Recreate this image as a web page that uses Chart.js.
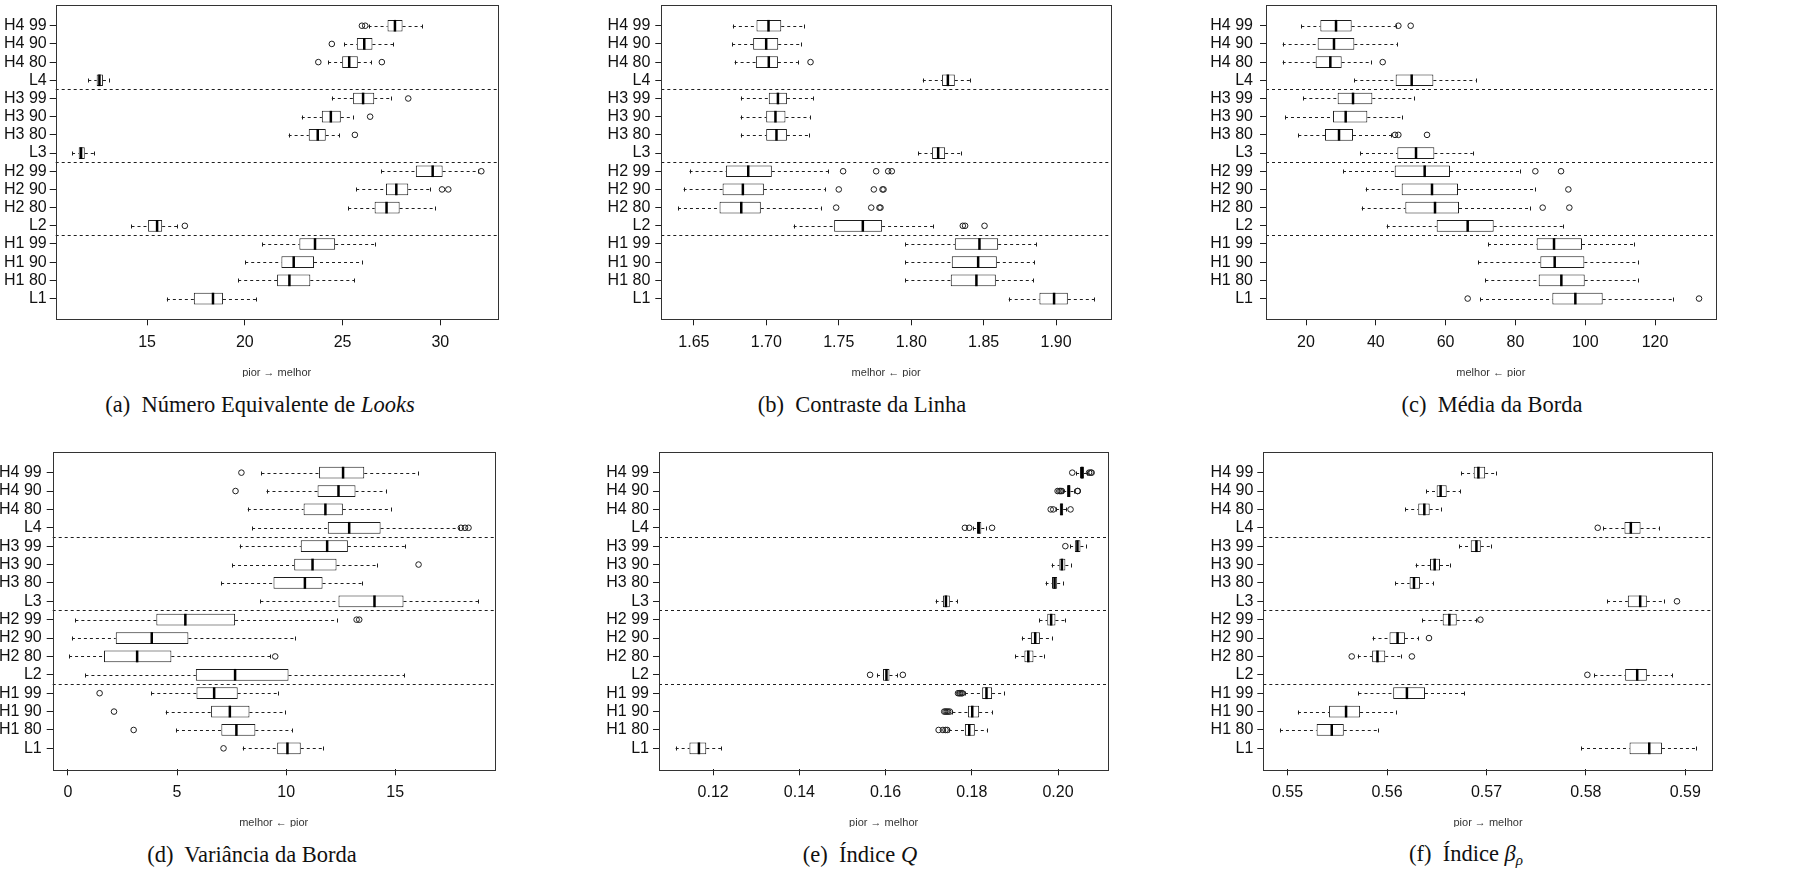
<!DOCTYPE html>
<html>
<head>
<meta charset="utf-8">
<script src="https://cdn.jsdelivr.net/npm/chart.js@4.4.0/dist/chart.umd.min.js"></script>
<style>
  body { margin: 0; background: #fff; }
  #page { position: relative; width: 1795px; height: 872px; overflow: hidden; }
  canvas { position: absolute; }
  .cap { position: absolute; font-family: "Liberation Serif", serif; font-size: 22.5px; line-height: 1; color: #111;
         white-space: nowrap; transform: translate(-50%, -50%); }
  .cap sub { font-size: 15px; vertical-align: -4px; }
</style>
</head>
<body>
<div id="page">
  <canvas id="chartA"></canvas>
  <canvas id="chartB"></canvas>
  <canvas id="chartC"></canvas>
  <canvas id="chartD"></canvas>
  <canvas id="chartE"></canvas>
  <canvas id="chartF"></canvas>
  <div class="cap" style="left:260px;top:405px">(a)&nbsp; Número Equivalente de <i>Looks</i></div>
  <div class="cap" style="left:862px;top:405px">(b)&nbsp; Contraste da Linha</div>
  <div class="cap" style="left:1492px;top:405px">(c)&nbsp; Média da Borda</div>
  <div class="cap" style="left:252px;top:855px">(d)&nbsp; Variância da Borda</div>
  <div class="cap" style="left:860px;top:855px">(e)&nbsp; Índice <i>Q</i></div>
  <div class="cap" style="left:1466px;top:855px">(f)&nbsp; Índice <i>β</i><sub><i>ρ</i></sub></div>
</div>
<script>
// rows, bottom to top
const rowLabels = ['L1', 'H1 80', 'H1 90', 'H1 99', 'L2', 'H2 80', 'H2 90', 'H2 99',
                   'L3', 'H3 80', 'H3 90', 'H3 99', 'L4', 'H4 80', 'H4 90', 'H4 99'];
const groupBreaks = [4.5, 8.5, 12.5];

// (a) Numero Equivalente de Looks
const enlLow  = [16.01, 19.66, 20.02, 20.89, 14.20, 25.29, 25.70, 26.99, 11.16, 22.24, 22.91, 24.45, 11.99, 24.26, 25.08, 26.33];
const enlQ1   = [17.39, 21.65, 21.87, 22.79, 15.05, 26.64, 27.22, 28.75, 11.50, 23.27, 23.94, 25.54, 12.42, 24.98, 25.73, 27.30];
const enlMed  = [18.37, 22.28, 22.50, 23.59, 15.51, 27.25, 27.75, 29.61, 11.62, 23.73, 24.40, 26.05, 12.56, 25.34, 26.11, 27.68];
const enlQ3   = [18.88, 23.35, 23.54, 24.62, 15.77, 27.92, 28.36, 30.12, 11.81, 24.14, 24.91, 26.62, 12.74, 25.78, 26.53, 28.07];
const enlHigh = [20.59, 25.59, 26.02, 26.65, 16.54, 29.73, 29.45, 31.91, 12.27, 24.84, 25.52, 27.46, 13.04, 26.45, 27.58, 29.06];
const enlOut  = [[], [], [], [], [16.93], [], [30.09, 30.41], [32.10], [], [25.63], [26.41], [28.36], [], [23.76, 27.01], [24.45], [25.99, 26.16]];
const enlTicks = [15, 20, 25, 30];

// (b) Contraste da Linha
const conLow  = [1.8673, 1.7960, 1.7960, 1.7960, 1.7188, 1.6390, 1.6429, 1.6470, 1.8050, 1.6824, 1.6822, 1.6824, 1.8080, 1.6781, 1.6764, 1.6769];
const conQ1   = [1.8885, 1.8273, 1.8280, 1.8301, 1.7468, 1.6677, 1.6698, 1.6721, 1.8144, 1.6999, 1.6999, 1.7017, 1.8213, 1.6928, 1.6909, 1.6932];
const conMed  = [1.8986, 1.8450, 1.8462, 1.8471, 1.7666, 1.6827, 1.6838, 1.6875, 1.8186, 1.7070, 1.7063, 1.7080, 1.8253, 1.7017, 1.6999, 1.7015];
const conQ3   = [1.9081, 1.8584, 1.8591, 1.8600, 1.7799, 1.6962, 1.6983, 1.7038, 1.8234, 1.7142, 1.7132, 1.7142, 1.8301, 1.7080, 1.7082, 1.7103];
const conHigh = [1.9264, 1.8844, 1.8848, 1.8862, 1.8149, 1.7379, 1.7404, 1.7427, 1.8345, 1.7296, 1.7300, 1.7321, 1.8407, 1.7218, 1.7236, 1.7257];
const conOut  = [[], [], [], [], [1.8356, 1.8372, 1.8506], [1.7482, 1.7724, 1.7781, 1.7788], [1.7500, 1.7742, 1.7802, 1.7809],
                 [1.7530, 1.7758, 1.7841, 1.7866], [], [], [], [], [], [1.7305], [], []];
const conTicks = [1.65, 1.70, 1.75, 1.80, 1.85, 1.90];

// (c) Media da Borda
const medLow  = [69.86, 71.38, 69.38, 72.15, 43.11, 35.95, 37.10, 30.60, 35.47, 17.80, 13.98, 19.24, 33.85, 13.31, 13.31, 18.66];
const medQ1   = [90.58, 86.67, 87.14, 86.09, 57.44, 48.46, 47.41, 45.41, 46.17, 25.44, 27.74, 29.07, 45.69, 22.77, 23.34, 24.11];
const medMed  = [97.17, 93.16, 91.25, 91.06, 66.32, 56.96, 56.10, 54.00, 51.52, 29.46, 31.37, 33.47, 50.28, 26.97, 28.02, 28.60];
const medQ3   = [105.00, 99.85, 99.75, 99.08, 73.77, 63.84, 63.55, 61.26, 56.77, 33.47, 37.57, 39.01, 56.49, 30.22, 33.85, 33.08];
const medHigh = [125.06, 115.22, 115.13, 113.89, 93.73, 84.09, 85.71, 81.32, 67.76, 44.36, 47.41, 50.95, 68.61, 38.53, 46.17, 45.69];
const medOut  = [[66.32, 132.61], [], [], [], [], [87.81, 95.45], [95.17], [85.71, 93.07], [], [45.50, 46.46, 54.67], [], [], [],
                 [41.97], [], [46.46, 49.99]];
const medTicks = [20, 40, 60, 80, 100, 120];

// (d) Variancia da Borda
const varLow  = [8.01, 4.95, 4.48, 3.82, 0.80, 0.05, 0.18, 0.34, 8.82, 7.02, 7.52, 7.87, 8.44, 8.24, 9.10, 8.87];
const varQ1   = [9.59, 7.03, 6.56, 5.89, 5.86, 1.65, 2.19, 4.05, 12.40, 9.42, 10.37, 10.67, 11.91, 10.80, 11.44, 11.51];
const varMed  = [10.06, 7.72, 7.42, 6.70, 7.66, 3.17, 3.84, 5.38, 14.05, 10.86, 11.21, 11.88, 12.89, 11.80, 12.40, 12.61];
const varQ3   = [10.67, 8.59, 8.32, 7.78, 10.11, 4.74, 5.52, 7.66, 15.38, 11.67, 12.31, 12.83, 14.33, 12.60, 13.18, 13.58];
const varHigh = [11.67, 10.28, 9.97, 9.63, 15.41, 9.28, 10.40, 12.34, 18.81, 13.46, 14.17, 15.44, 17.94, 14.80, 14.56, 16.06];
const varOut  = [[7.13], [3.01], [2.11], [1.45], [], [9.50], [], [13.23, 13.35], [], [], [16.07], [], [18.01, 18.20, 18.36],
                 [], [7.68], [7.95]];
const varTicks = [0, 5, 10, 15];

// (e) Indice Q
const qLow  = [0.1113, 0.1747, 0.1755, 0.1784, 0.1580, 0.1901, 0.1916, 0.1957, 0.1716, 0.1971, 0.1985, 0.2028, 0.1803, 0.1995, 0.2012, 0.2042];
const qQ1   = [0.1145, 0.1784, 0.1791, 0.1824, 0.1594, 0.1922, 0.1937, 0.1975, 0.1733, 0.1986, 0.2003, 0.2039, 0.1812, 0.2004, 0.2021, 0.2051];
const qMed  = [0.1167, 0.1794, 0.1801, 0.1834, 0.1602, 0.1931, 0.1947, 0.1984, 0.1740, 0.1992, 0.2009, 0.2045, 0.1816, 0.2008, 0.2025, 0.2056];
const qQ3   = [0.1184, 0.1807, 0.1817, 0.1847, 0.1609, 0.1943, 0.1958, 0.1994, 0.1749, 0.1998, 0.2017, 0.2052, 0.1822, 0.2012, 0.2029, 0.2060];
const qHigh = [0.1218, 0.1836, 0.1846, 0.1875, 0.1627, 0.1967, 0.1986, 0.2017, 0.1766, 0.2012, 0.2030, 0.2065, 0.1834, 0.2019, 0.2036, 0.2067];
const qOut  = [[], [0.1723, 0.1733, 0.1739, 0.1743], [0.1736, 0.1739, 0.1742, 0.1745, 0.1749],
               [0.1768, 0.1771, 0.1773, 0.1776, 0.1778], [0.1564, 0.1640], [], [], [], [], [], [], [0.2017],
               [0.1784, 0.1794, 0.1847], [0.1983, 0.1989, 0.2029], [0.1999, 0.2003, 0.2006, 0.2009, 0.2045, 0.2046],
               [0.2033, 0.2072, 0.2076, 0.2078]];
const qTicks = [0.12, 0.14, 0.16, 0.18, 0.20];

// (f) Indice beta_rho
const betaLow  = [0.57951, 0.54923, 0.55104, 0.55713, 0.58086, 0.55706, 0.55854, 0.56355, 0.58213, 0.56082, 0.56287, 0.56724, 0.58176, 0.56183, 0.56392, 0.56745];
const betaQ1   = [0.58439, 0.55292, 0.55417, 0.56062, 0.58395, 0.55850, 0.56025, 0.56560, 0.58422, 0.56227, 0.56432, 0.56842, 0.58388, 0.56314, 0.56499, 0.56872];
const betaMed  = [0.58637, 0.55444, 0.55588, 0.56200, 0.58516, 0.55904, 0.56106, 0.56627, 0.58546, 0.56271, 0.56479, 0.56899, 0.58452, 0.56375, 0.56539, 0.56919];
const betaQ3   = [0.58765, 0.55565, 0.55729, 0.56382, 0.58613, 0.55982, 0.56180, 0.56701, 0.58613, 0.56331, 0.56533, 0.56943, 0.58550, 0.56429, 0.56600, 0.56987];
const betaHigh = [0.59108, 0.55911, 0.56092, 0.56775, 0.58866, 0.56136, 0.56311, 0.56899, 0.58782, 0.56459, 0.56634, 0.57050, 0.58734, 0.56546, 0.56738, 0.57091];
const betaOut  = [[], [], [], [], [0.58015], [0.55645, 0.56250], [0.56422], [0.56939], [0.58916], [], [], [], [0.58119], [], [], []];
const betaTicks = [0.55, 0.56, 0.57, 0.58, 0.59];

const ink = '#1e1e1e';

// R style range: data range stretched by 4% on each side
function paddedRange(lists) {
  let lo = Infinity, hi = -Infinity;
  lists.flat(2).forEach(v => { lo = Math.min(lo, v); hi = Math.max(hi, v); });
  const pad = (hi - lo) * 0.04;
  return [lo - pad, hi + pad];
}

function boxPlugin(p) {
  return {
    id: 'boxplot',
    beforeDatasetsDraw(chart) {
      const {ctx, chartArea: a, scales: {x, y}} = chart;
      ctx.save();
      ctx.strokeStyle = ink;
      ctx.lineWidth = 1;
      ctx.setLineDash([3, 3]);
      groupBreaks.forEach(v => {
        const py = Math.round(y.getPixelForValue(v)) + 0.5;
        ctx.beginPath(); ctx.moveTo(a.left, py); ctx.lineTo(a.right, py); ctx.stroke();
      });
      // whiskers
      p.low.forEach((lo, i) => {
        const py = Math.round(y.getPixelForValue(i + 1)) + 0.5;
        ctx.beginPath();
        ctx.moveTo(x.getPixelForValue(lo), py); ctx.lineTo(x.getPixelForValue(p.q1[i]), py);
        ctx.moveTo(x.getPixelForValue(p.q3[i]), py); ctx.lineTo(x.getPixelForValue(p.high[i]), py);
        ctx.stroke();
      });
      ctx.setLineDash([]);
      p.low.forEach((lo, i) => {
        const py = Math.round(y.getPixelForValue(i + 1)) + 0.5;
        [lo, p.high[i]].forEach(v => {
          const px = Math.round(x.getPixelForValue(v)) + 0.5;
          ctx.beginPath(); ctx.moveTo(px, py - 2); ctx.lineTo(px, py + 2); ctx.stroke();
        });
      });
      ctx.restore();
    },
    afterDatasetsDraw(chart) {
      const {ctx, chartArea: a, scales: {x, y}} = chart;
      const half = Math.abs(y.getPixelForValue(2) - y.getPixelForValue(1)) * 0.32;
      ctx.save();
      ctx.strokeStyle = '#000';
      ctx.lineWidth = 2.5;
      p.med.forEach((m, i) => {
        const py = y.getPixelForValue(i + 1);
        const px = x.getPixelForValue(m);
        ctx.beginPath(); ctx.moveTo(px, py - half); ctx.lineTo(px, py + half); ctx.stroke();
      });
      ctx.lineWidth = 1;
      ctx.strokeStyle = '#333';
      ctx.strokeRect(Math.round(a.left) + 0.5, Math.round(a.top) + 0.5, Math.round(a.width), Math.round(a.height));
      ctx.restore();
    }
  };
}

function makePanel(id, p) {
  const canvas = document.getElementById(id);
  canvas.width = p.canvas.w;
  canvas.height = p.canvas.h;
  canvas.style.left = p.canvas.x + 'px';
  canvas.style.top = p.canvas.y + 'px';
  const [xMin, xMax] = paddedRange([p.low, p.high, p.out]);
  const boxes = rowLabels.map((_, i) => ({x: [p.q1[i], p.q3[i]], y: i + 1}));
  const outliers = p.out.flatMap((vals, i) => vals.map(v => ({x: v, y: i + 1})));

  new Chart(canvas, {
    type: 'bar',
    data: {
      datasets: [
        {
          type: 'bar', data: boxes, backgroundColor: '#fff', borderColor: ink, borderWidth: 1,
          borderSkipped: false, barPercentage: 0.64, categoryPercentage: 1
        },
        {
          type: 'scatter', data: outliers, pointStyle: 'circle', pointRadius: 2.8,
          borderColor: ink, borderWidth: 1, backgroundColor: 'rgba(0,0,0,0)'
        }
      ]
    },
    options: {
      indexAxis: 'y',
      responsive: false,
      animation: false,
      events: [],
      layout: {padding: {top: p.box.t - p.canvas.y, right: p.canvas.x + p.canvas.w - p.box.r, left: 0, bottom: 0}},
      plugins: {legend: {display: false}, tooltip: {enabled: false}},
      scales: {
        x: {
          type: 'linear', min: xMin, max: xMax,
          afterBuildTicks: ax => { ax.ticks = p.ticks.map(v => ({value: v})); },
          afterFit: s => {
            s.height = p.canvas.y + p.canvas.h - p.box.b;
            s.paddingLeft = 0; s.paddingRight = 0;
          },
          ticks: {
            autoSkip: false, maxRotation: 0, padding: 8, color: '#111',
            font: {family: 'Liberation Sans', size: 16},
            callback: v => v.toFixed(p.decimals)
          },
          grid: {drawOnChartArea: false, drawTicks: true, tickLength: 6, color: ink, tickColor: ink},
          border: {display: false},
          title: {
            display: true, text: p.title, color: '#333',
            font: {family: 'Liberation Sans', size: 11}, padding: {top: 0, bottom: -3}
          }
        },
        y: {
          type: 'linear', min: -0.14, max: 17.14, offset: false,
          afterBuildTicks: ax => { ax.ticks = rowLabels.map((_, i) => ({value: i + 1})); },
          afterFit: s => {
            s.width = p.box.l - p.canvas.x;
            s.paddingTop = 0; s.paddingBottom = 0;
          },
          ticks: {
            autoSkip: false, padding: p.gap - 6, color: '#111',
            font: {family: 'Liberation Sans', size: 16},
            callback: v => rowLabels[v - 1]
          },
          grid: {drawOnChartArea: false, drawTicks: true, tickLength: 6, offset: false, color: ink, tickColor: ink},
          border: {display: false}
        }
      }
    },
    plugins: [boxPlugin(p)]
  });
}

makePanel('chartA', {
  low: enlLow, q1: enlQ1, med: enlMed, q3: enlQ3, high: enlHigh, out: enlOut, ticks: enlTicks, decimals: 0,
  title: 'pior \u2192 melhor', gap: 9,
  canvas: {x: 0, y: 0, w: 510, h: 377}, box: {l: 55.7, r: 497.7, t: 2.5, b: 319.3}
});
makePanel('chartB', {
  low: conLow, q1: conQ1, med: conMed, q3: conQ3, high: conHigh, out: conOut, ticks: conTicks, decimals: 2,
  title: 'melhor \u2190 pior', gap: 11,
  canvas: {x: 600, y: 0, w: 520, h: 377}, box: {l: 661.3, r: 1111, t: 2.5, b: 319.3}
});
makePanel('chartC', {
  low: medLow, q1: medQ1, med: medMed, q3: medQ3, high: medHigh, out: medOut, ticks: medTicks, decimals: 0,
  title: 'melhor \u2190 pior', gap: 13,
  canvas: {x: 1200, y: 0, w: 595, h: 377}, box: {l: 1266, r: 1715.7, t: 2.5, b: 319.3}
});
makePanel('chartD', {
  low: varLow, q1: varQ1, med: varMed, q3: varQ3, high: varHigh, out: varOut, ticks: varTicks, decimals: 0,
  title: 'melhor \u2190 pior', gap: 11,
  canvas: {x: 0, y: 440, w: 510, h: 387}, box: {l: 52.7, r: 494.7, t: 451.7, b: 769.3}
});
makePanel('chartE', {
  low: qLow, q1: qQ1, med: qMed, q3: qQ3, high: qHigh, out: qOut, ticks: qTicks, decimals: 2,
  title: 'pior \u2192 melhor', gap: 10,
  canvas: {x: 600, y: 440, w: 520, h: 387}, box: {l: 659, r: 1108.3, t: 451.7, b: 769.3}
});
makePanel('chartF', {
  low: betaLow, q1: betaQ1, med: betaMed, q3: betaQ3, high: betaHigh, out: betaOut, ticks: betaTicks, decimals: 2,
  title: 'pior \u2192 melhor', gap: 10,
  canvas: {x: 1200, y: 440, w: 595, h: 387}, box: {l: 1263.3, r: 1712.7, t: 451.7, b: 769.3}
});
</script>
</body>
</html>
